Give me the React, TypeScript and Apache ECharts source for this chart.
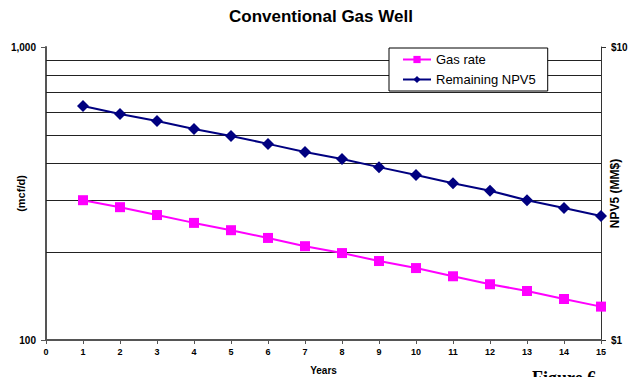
import React, { useEffect, useRef } from "react";
import * as echarts from "echarts";

const years = [1, 2, 3, 4, 5, 6, 7, 8, 9, 10, 11, 12, 13, 14, 15];
const gasRate = [300, 284, 267, 251, 237, 223, 209, 198, 186, 176, 165, 155, 147, 138, 130];
const npv5 = [6.29, 5.91, 5.59, 5.25, 4.97, 4.67, 4.38, 4.15, 3.89, 3.66, 3.43, 3.23, 3.0, 2.82, 2.65];
const gridValues = [200, 300, 400, 500, 600, 700, 800, 900];
const xTicks = { min: 0, max: 15, interval: 1 };

const FONT = "Liberation Sans, Arial, sans-serif";

export default function App() {
  const ref = useRef<HTMLDivElement>(null);
  useEffect(() => {
    const chart = echarts.init(ref.current!, null, { renderer: "svg" });
    chart.setOption({
      animation: false,
      backgroundColor: "#fff",
      textStyle: { fontFamily: FONT },
      title: {
        text: "Conventional Gas Well",
        left: 224,
        top: 3,
        textStyle: { fontSize: 17, fontWeight: "bold", color: "#000", fontFamily: FONT },
      },
      legend: {
        orient: "vertical",
        left: 389,
        top: 48,
        backgroundColor: "#fff",
        borderColor: "#000",
        borderWidth: 1,
        padding: [5, 12, 5, 13],
        itemGap: 7,
        itemWidth: 28,
        itemHeight: 9,
        textStyle: { fontSize: 13, color: "#000", fontFamily: FONT },
        data: ["Gas rate", "Remaining NPV5"],
      },
      grid: { left: 46, right: 30, top: 47, bottom: 37, containLabel: false, outerBoundsMode: "none" },
      xAxis: {
        type: "value",
        min: xTicks.min,
        max: xTicks.max,
        interval: xTicks.interval,
        name: "Years",
        nameLocation: "middle",
        nameGap: 25,
        nameMoveOverlap: false,
        nameTextStyle: { fontSize: 10, fontWeight: "bold", color: "#000" },
        axisLine: { lineStyle: { color: "#555", width: 2 } },
        axisTick: { length: 4, lineStyle: { color: "#555" } },
        axisLabel: { fontSize: 9, fontWeight: "bold", color: "#000", margin: 7 },
        splitLine: { show: false },
      },
      yAxis: [
        {
          type: "log",
          logBase: 10,
          min: 100,
          max: 1000,
          name: "(mcf/d)",
          nameLocation: "middle",
          nameRotate: 90,
          nameGap: 20,
          nameMoveOverlap: false,
          nameTextStyle: { fontSize: 11, fontWeight: "bold", color: "#000" },
          axisLine: { show: true, lineStyle: { color: "#555", width: 2 } },
          axisTick: { show: true, length: 5, lineStyle: { color: "#555" } },
          axisLabel: {
            fontSize: 10,
            fontWeight: "bold",
            color: "#000",
            margin: 10,
            formatter: (v: number) => (v >= 1000 ? "1,000" : String(Math.round(v))),
          },
          splitLine: { show: false },
        },
        {
          type: "log",
          logBase: 10,
          min: 1,
          max: 10,
          position: "right",
          name: "NPV5 (MM$)",
          nameLocation: "middle",
          nameRotate: 90,
          nameGap: 8,
          nameMoveOverlap: false,
          nameTextStyle: { fontSize: 12, fontWeight: "bold", color: "#000" },
          axisLine: { show: true, lineStyle: { color: "#333", width: 1 } },
          axisTick: { show: true, length: 5, lineStyle: { color: "#333" } },
          axisLabel: {
            fontSize: 10,
            fontWeight: "bold",
            color: "#000",
            margin: 10,
            formatter: (v: number) => "$" + Math.round(v),
          },
          splitLine: { show: false },
        },
      ],
      series: [
        {
          name: "Gas rate",
          type: "line",
          yAxisIndex: 0,
          data: years.map((y, i) => [y, gasRate[i]]),
          symbol: "rect",
          symbolSize: 10,
          z: 3,
          lineStyle: { color: "#FF00FF", width: 2 },
          itemStyle: { color: "#FF00FF" },
          markLine: {
            silent: true,
            symbol: "none",
            z: 1,
            label: { show: false },
            lineStyle: { color: "#222", width: 1, type: "solid" },
            data: gridValues.map((v) => ({ yAxis: v })),
          },
        },
        {
          name: "Remaining NPV5",
          type: "line",
          yAxisIndex: 1,
          data: years.map((y, i) => [y, npv5[i]]),
          symbol: "diamond",
          symbolSize: 12,
          z: 3,
          lineStyle: { color: "#000080", width: 2 },
          itemStyle: { color: "#000080" },
        },
      ],
      graphic: [
        {
          type: "text",
          left: 532,
          top: 369,
          style: { text: "Figure 6", font: "bold 18px 'Liberation Serif', serif", fill: "#000" },
        },
      ],
    });
    return () => chart.dispose();
  }, []);
  return <div ref={ref} style={{ width: 631, height: 377, position: "fixed", left: 0, top: 0 }} />;
}
